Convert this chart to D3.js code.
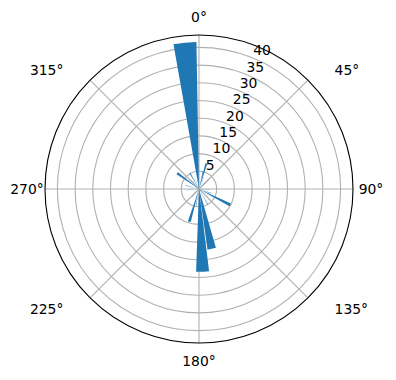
<!DOCTYPE html>
<html>
<head>
<meta charset="utf-8">
<script src="https://cdn.jsdelivr.net/npm/d3@7"></script>
<style>
  body { margin: 0; background: #fff; }
  svg text { font-family: "DejaVu Sans", sans-serif; font-size: 13.9px; fill: #000; }
</style>
</head>
<body>
<svg id="chart" width="396" height="380"></svg>
<script>
// bar direction (deg, clockwise from north), bar width (deg), bar length
const barAngles  = [354.5, 13, 16, 22, 46, 95, 109, 117, 150, 168, 177.5, 190, 196.5, 222, 265, 285, 306, 318, 330, 340];
const barWidths  = [9, 2, 4, 1.5, 1.5, 1.5, 1.5, 5, 2, 8, 9, 2, 5, 1.5, 1.5, 2, 5, 1.5, 3, 1.5];
const barHeights = [41.5, 5.2, 7.5, 3.5, 3.8, 3, 3.7, 9.9, 5, 17.3, 23.4, 4.8, 9.6, 3, 3.5, 4, 7.6, 3.5, 5.2, 3];

const rTicks = [5, 10, 15, 20, 25, 30, 35, 40];
const thetaTicks = [0, 45, 90, 135, 180, 225, 270, 315];

const rMax = 43.5;

function init() {
    const svg = d3.select('#chart');
    const cx = 199, cy = 189, R = 154;
    const rad = d => d * Math.PI / 180;

    const r = d3.scaleLinear().domain([0, rMax]).range([0, R]);

    const g = svg.append("g").attr("transform", `translate(${cx},${cy})`);

    // grid circles
    g.selectAll(".ring")
      .data(rTicks)
      .join("circle")
      .attr("r", d => r(d))
      .attr("fill", "none")
      .attr("stroke", "#b0b0b0")
      .attr("stroke-width", 1.1);

    // spokes
    g.selectAll(".spoke")
      .data(thetaTicks)
      .join("line")
      .attr("x1", 0).attr("y1", 0)
      .attr("x2", d => R * Math.sin(rad(d)))
      .attr("y2", d => -R * Math.cos(rad(d)))
      .attr("stroke", "#b0b0b0")
      .attr("stroke-width", 1.1);

    // bars
    const arc = d3.arc().innerRadius(0);
    const bars = barAngles.map((a, i) => ({ a: a, w: barWidths[i], h: barHeights[i] }));
    g.selectAll(".bar")
      .data(bars)
      .join("path")
      .attr("d", d => arc({
          outerRadius: r(d.h),
          startAngle: rad(d.a - d.w / 2),
          endAngle: rad(d.a + d.w / 2)
      }))
      .attr("fill", "#1f77b4");

    // outer frame
    g.append("circle")
      .attr("r", R)
      .attr("fill", "none")
      .attr("stroke", "#000")
      .attr("stroke-width", 1.1);

    // radial labels at 22.5 deg
    const la = rad(22.5);
    g.selectAll(".rlab")
      .data(rTicks)
      .join("text")
      .attr("x", d => r(d) * Math.sin(la))
      .attr("y", d => -r(d) * Math.cos(la) - 3)
      .attr("text-anchor", "start")
      .text(d => d);

    // angle labels; the diagonal ones sit with their near edge outside the circle
    const lr = R + 18;
    g.selectAll(".tlab")
      .data(thetaTicks)
      .join("text")
      .each(function(d) {
          const s = Math.sin(rad(d)), c = Math.cos(rad(d));
          const t = d3.select(this);
          if (d % 90 === 0) {
              t.attr("x", lr * s).attr("y", -lr * c).attr("text-anchor", "middle");
          } else {
              t.attr("x", lr * s + (s > 0 ? 14 : -14))
               .attr("y", -(lr - 3) * c)
               .attr("text-anchor", s > 0 ? "start" : "end");
          }
          t.attr("dominant-baseline", "central");
      })
      .text(d => d + "°");
}

init();
</script>
</body>
</html>
